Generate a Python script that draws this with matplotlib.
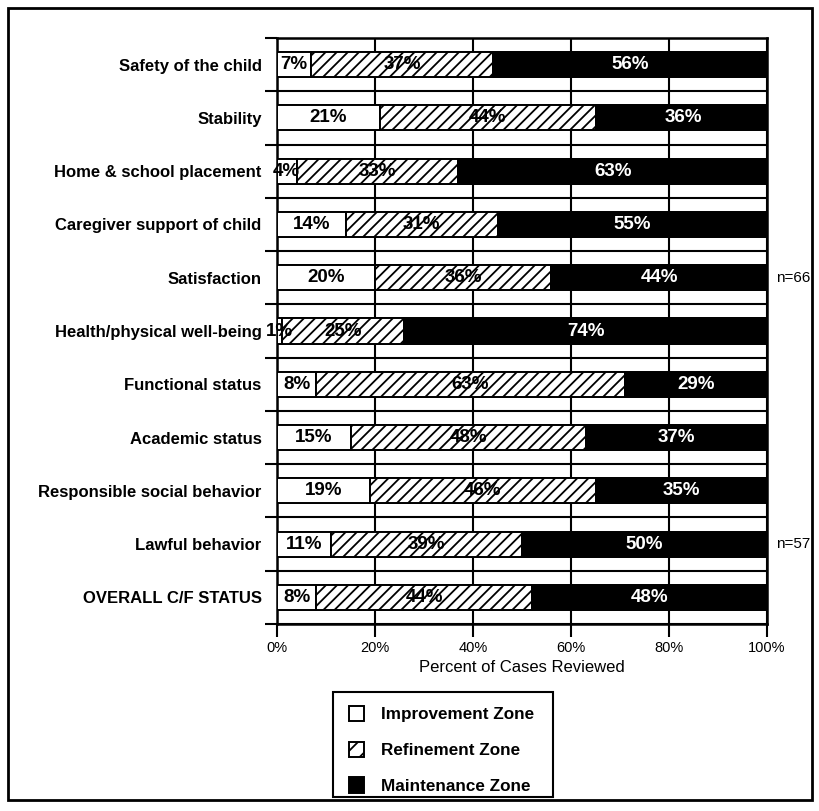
import matplotlib
matplotlib.use("Agg")
import matplotlib.pyplot as plt
from matplotlib.patches import Patch, Rectangle
import numpy as np

plt.rcParams['font.family'] = ['Liberation Sans', 'DejaVu Sans']
plt.rcParams['hatch.linewidth'] = 1.3

# domains, top to bottom
domains = ["Safety of the child", "Stability", "Home & school placement",
           "Caregiver support of child", "Satisfaction",
           "Health/physical well-being", "Functional status",
           "Academic status", "Responsible social behavior",
           "Lawful behavior", "OVERALL C/F STATUS"]
improvement = [7, 21, 4, 14, 20, 1, 8, 15, 19, 11, 8]
refinement = [37, 44, 33, 31, 36, 25, 63, 48, 46, 39, 44]
maintenance = [56, 36, 63, 55, 44, 74, 29, 37, 35, 50, 48]
zone_names = ["Improvement Zone", "Refinement Zone", "Maintenance Zone"]
xticks = [0, 20, 40, 60, 80, 100]
sample_notes = {"Satisfaction": "n=66", "Lawful behavior": "n=57"}

fig = plt.figure(figsize=(8.19, 8.11), dpi=100)
ax = fig.add_axes([277 / 819, 1 - 624 / 811, 490 / 819, 586 / 811])

n = len(domains)
y = np.arange(n)
bar_h = 0.47

imp = np.array(improvement)
ref = np.array(refinement)
mnt = np.array(maintenance)

ax.barh(y, imp, height=bar_h, color='white', edgecolor='black', lw=1.4, zorder=3)
ax.barh(y, ref, left=imp, height=bar_h, color='white', edgecolor='black',
        hatch='///', lw=1.4, zorder=3)
ax.barh(y, mnt, left=imp + ref, height=bar_h, color='black',
        edgecolor='black', lw=1.4, zorder=3)

# value labels in the middle of each segment
for i in range(n):
    segs = [(0, imp[i], 'black'), (imp[i], ref[i], 'black'),
            (imp[i] + ref[i], mnt[i], 'white')]
    for left, w, col in segs:
        ax.text(left + w / 2, i, f"{w}%", ha='center', va='center',
                fontsize=13.5, fontweight='bold', color=col, zorder=5)

# horizontal rules: band boundaries and bar edges
for b in np.arange(n + 1) - 0.5:
    ax.axhline(b, color='black', lw=1.5, zorder=1)
for i in y:
    ax.axhline(i - bar_h / 2, color='black', lw=1.2, zorder=1)
    ax.axhline(i + bar_h / 2, color='black', lw=1.2, zorder=1)

ax.set_xlim(0, 100)
ax.set_ylim(n - 0.5, -0.5)

ax.set_xticks(xticks)
ax.set_xticklabels([f"{t}%" for t in xticks], fontsize=10.5)
ax.tick_params(axis='x', length=9, width=1.5, pad=3)
ax.grid(axis='x', color='black', lw=1.5, zorder=1)
ax.set_axisbelow(True)

ax.set_yticks(y)
ax.set_yticklabels(domains, fontsize=12, fontweight='bold')
ax.set_yticks(np.arange(n + 1) - 0.5, minor=True)
ax.tick_params(axis='y', which='major', length=0, pad=11)
ax.tick_params(axis='y', which='minor', length=9, width=1.5)

for s in ax.spines.values():
    s.set_linewidth(1.8)

ax.set_xlabel("Percent of Cases Reviewed", fontsize=12, labelpad=4)

for name, note in sample_notes.items():
    ax.text(101.8, domains.index(name), note, ha='left', va='center',
            fontsize=11)

# legend entries without their own frame; the box is drawn separately
handles = [Patch(facecolor='white', edgecolor='black', lw=1.4),
           Patch(facecolor='white', edgecolor='black', hatch='//', lw=1.4),
           Patch(facecolor='black', edgecolor='black', lw=1.4)]
fig.legend(handles, zone_names, loc='upper left',
           bbox_to_anchor=(349 / 819, 1 - 706 / 811),
           borderaxespad=0, borderpad=0, frameon=False,
           prop={'size': 12.3, 'weight': 'bold'},
           handlelength=0.85, handleheight=1.0, labelspacing=1.12,
           handletextpad=1.0)
fig.patches.append(Rectangle((333 / 819, 1 - 797 / 811), 220 / 819, 105 / 811,
                             transform=fig.transFigure, fill=False,
                             edgecolor='black', lw=1.5))

# outer frame around the page
fig.patches.append(Rectangle((8 / 819, 1 - 800 / 811), 804 / 819, 792 / 811,
                             transform=fig.transFigure, fill=False,
                             edgecolor='black', lw=2))

fig.savefig("out.png", dpi=100)
